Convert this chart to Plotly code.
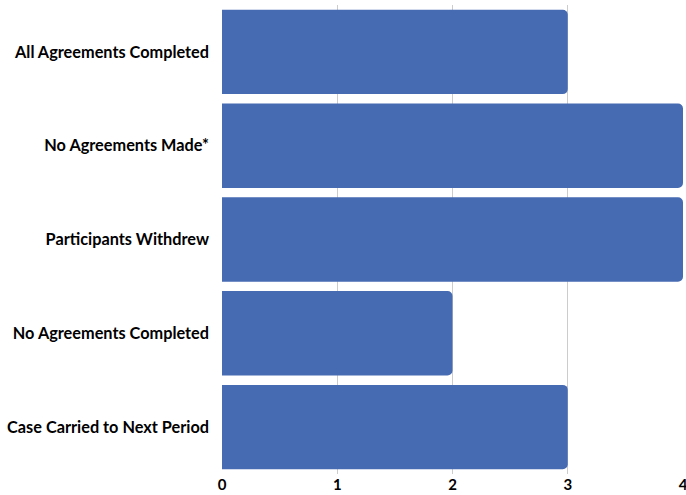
import plotly.graph_objects as go

categories = ["All Agreements Completed", "No Agreements Made*", "Participants Withdrew",
              "No Agreements Completed", "Case Carried to Next Period"]
values = [3, 4, 4, 2, 3]
tick_vals = [0, 1, 2, 3, 4]

fig = go.Figure(go.Bar(
    x=values, y=categories, orientation="h",
    marker=dict(color="#466bb2", line=dict(width=0)),
    hoverinfo="skip",
))
fig.update_layout(
    width=686, height=495,
    margin=dict(l=222, r=3, t=5, b=21, pad=0),
    paper_bgcolor="white", plot_bgcolor="white",
    bargap=0.1, barcornerradius=5,
    showlegend=False,
    font=dict(family="Lato", size=16, color="black", weight="bold"),
)
fig.update_xaxes(range=[0, 4], tickvals=tick_vals, showgrid=True, gridcolor="#cccccc",
                 gridwidth=1, zeroline=False, showline=False, ticks="", automargin=False,
                 ticklabeloverflow="allow", ticklabelstandoff=0,
                 tickfont=dict(size=15, weight="bold", color="black"))
fig.update_yaxes(autorange="reversed", categoryorder="array", categoryarray=categories,
                 showgrid=False, zeroline=False, ticks="", ticklabelstandoff=12, automargin=False,
                 tickfont=dict(size=16.3, weight="bold", color="black"))
fig.write_html("out.html", config={"displayModeBar": False},
               post_script="document.body.style.margin='0';document.body.style.overflow='hidden';")
